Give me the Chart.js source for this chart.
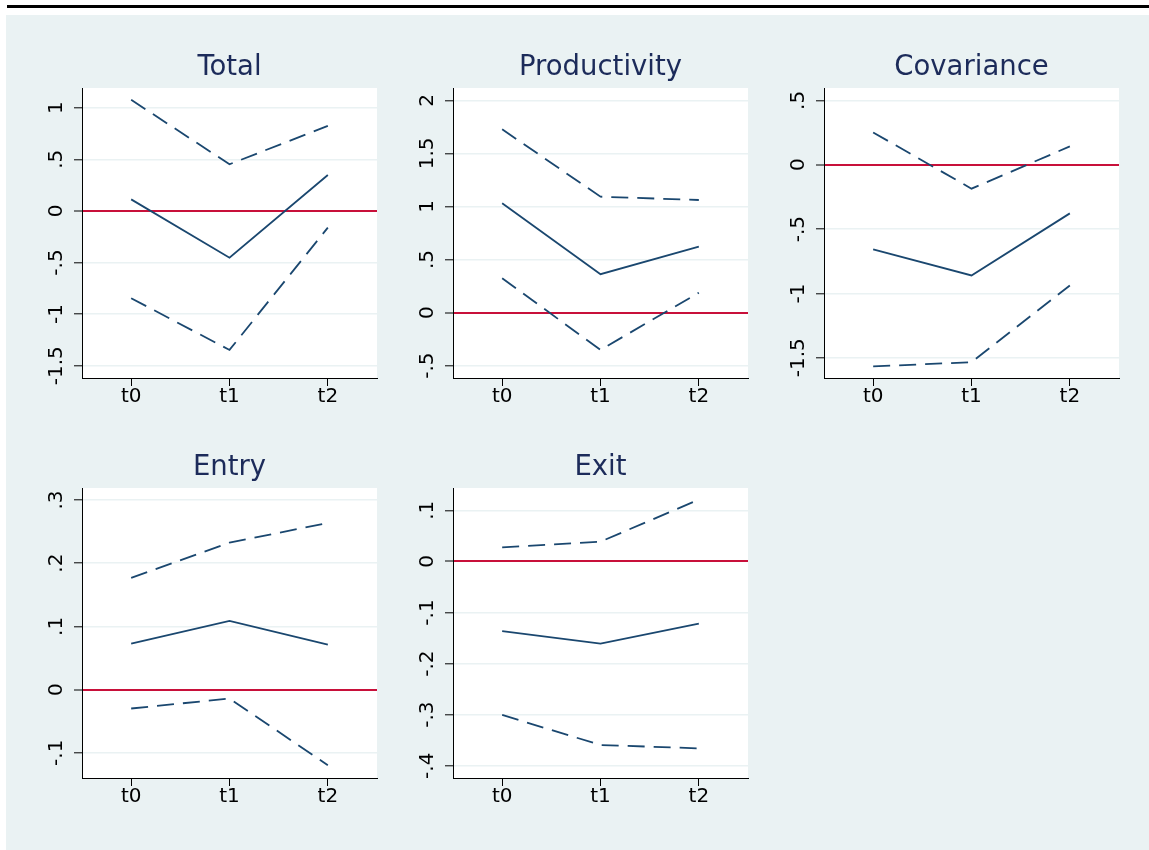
<!DOCTYPE html>
<html>
<head>
<meta charset="utf-8">
<script src="https://cdn.jsdelivr.net/npm/chart.js@4.4.1/dist/chart.umd.min.js"></script>
<style>
html, body { margin:0; padding:0; background:#ffffff; width:1149px; height:850px; overflow:hidden; }
#topline { position:absolute; left:7px; top:5px; width:1142px; height:3px; background:#000; }
#bg { position:absolute; left:6px; top:15px; width:1143px; height:835px; background:#eaf2f3; }
canvas { position:absolute; }
</style>
</head>
<body>
<div id="topline"></div>
<div id="bg"></div>
<script>
// ---- data ----
const categories = ['t0', 't1', 't2'];
const titles = ['Total', 'Productivity', 'Covariance', 'Entry', 'Exit'];

const totalMean  = [0.112, -0.453, 0.348];
const totalUpper = [1.076, 0.452, 0.824];
const totalLower = [-0.846, -1.347, -0.162];
const totalTicks = [-1.5, -1, -0.5, 0, 0.5, 1];
const totalRange = [-1.619, 1.191];

const prodMean  = [1.030, 0.362, 0.621];
const prodUpper = [1.727, 1.092, 1.061];
const prodLower = [0.324, -0.351, 0.188];
const prodTicks = [-0.5, 0, 0.5, 1, 1.5, 2];
const prodRange = [-0.616, 2.116];

const covMean  = [-0.658, -0.860, -0.378];
const covUpper = [0.251, -0.186, 0.142];
const covLower = [-1.567, -1.534, -0.938];
const covTicks = [-1.5, -1, -0.5, 0, 0.5];
const covRange = [-1.657, 0.596];

const entryMean  = [0.0728, 0.1085, 0.0712];
const entryUpper = [0.1766, 0.2326, 0.2636];
const entryLower = [-0.030, -0.0142, -0.1198];
const entryTicks = [-0.1, 0, 0.1, 0.2, 0.3];
const entryRange = [-0.140, 0.319];

const exitMean  = [-0.1365, -0.1608, -0.1216];
const exitUpper = [0.0275, 0.0386, 0.121];
const exitLower = [-0.3006, -0.3594, -0.366];
const exitTicks = [-0.4, -0.3, -0.2, -0.1, 0, 0.1];
const exitRange = [-0.424, 0.1437];

// ---- layout / style ----
const FONT = '"DejaVu Sans", sans-serif';
const NAVY = '#1a476f';
const RED = '#c8103a';
const GRID = '#eaf2f3';
const TITLE = '#1c2b5a';
const AXIS_W = 76, TITLE_H = 78, XAX_H = 40, PLOT_W = 295, PLOT_H = 290, PAD_R = 4;
const TITLE_SIZE = 27.5;

const layoutPos = [
  {left: 82, top: 88}, {left: 453, top: 88}, {left: 824, top: 88},
  {left: 82, top: 488}, {left: 453, top: 488}
];

const panels = [
  {title: titles[0], mean: totalMean, upper: totalUpper, lower: totalLower, ticks: totalTicks, range: totalRange},
  {title: titles[1], mean: prodMean, upper: prodUpper, lower: prodLower, ticks: prodTicks, range: prodRange},
  {title: titles[2], mean: covMean, upper: covUpper, lower: covLower, ticks: covTicks, range: covRange},
  {title: titles[3], mean: entryMean, upper: entryUpper, lower: entryLower, ticks: entryTicks, range: entryRange},
  {title: titles[4], mean: exitMean, upper: exitUpper, lower: exitLower, ticks: exitTicks, range: exitRange}
];

function fmt(v) {
  const r = Math.round(v * 1000) / 1000;
  return String(r).replace(/^(-?)0\./, '$1.');
}

const measure = document.createElement('canvas').getContext('2d');
measure.font = '20px ' + FONT;

const whiteBg = {
  id: 'whiteBg',
  beforeDraw(chart) {
    const {ctx, chartArea: a} = chart;
    ctx.save();
    ctx.fillStyle = '#ffffff';
    ctx.fillRect(a.left, a.top, a.right - a.left, a.bottom - a.top);
    ctx.restore();
  }
};

panels.forEach((p, i) => {
  const pos = layoutPos[i];
  const cv = document.createElement('canvas');
  cv.width = AXIS_W + PLOT_W + PAD_R;
  cv.height = TITLE_H + PLOT_H + XAX_H;
  cv.style.left = (pos.left - AXIS_W) + 'px';
  cv.style.top = (pos.top - TITLE_H) + 'px';
  document.body.appendChild(cv);
  const widest = Math.max(...p.ticks.map(t => measure.measureText(fmt(t)).width));
  const lineDs = (data, dashed) => ({
    data: data,
    borderColor: NAVY,
    borderWidth: 1.8,
    borderDash: dashed ? [17, 9] : [],
    pointRadius: 0,
    tension: 0,
    fill: false
  });
  const lh = 1.2 * TITLE_SIZE;
  const padTop = 57.5 - lh / 2;
  new Chart(cv, {
    type: 'line',
    data: {
      labels: categories,
      datasets: [lineDs(p.upper, true), lineDs(p.mean, false), lineDs(p.lower, true)]
    },
    options: {
      responsive: false,
      animation: false,
      devicePixelRatio: 1,
      layout: {padding: {left: 0, right: PAD_R, top: 0, bottom: 0}},
      plugins: {
        legend: {display: false},
        tooltip: {enabled: false},
        title: {
          display: true, text: p.title, fullSize: false, color: TITLE,
          font: {family: FONT, size: TITLE_SIZE, weight: 'normal', lineHeight: 1.2},
          padding: {top: padTop, bottom: TITLE_H - lh - padTop}
        }
      },
      scales: {
        x: {
          type: 'category', offset: true,
          grid: {display: true, drawOnChartArea: false, tickLength: 8, tickColor: '#000', tickWidth: 1, offset: false},
          border: {display: true, color: '#000', width: 1},
          ticks: {font: {family: FONT, size: 20}, color: '#000', padding: -1, maxRotation: 0, minRotation: 0, autoSkip: false},
          afterFit(s) { s.height = XAX_H; }
        },
        y: {
          type: 'linear', min: p.range[0], max: p.range[1],
          afterBuildTicks(s) { s.ticks = p.ticks.map(v => ({value: v})); },
          grid: {
            color: c => (c.tick && c.tick.value === 0) ? RED : GRID,
            lineWidth: c => (c.tick && c.tick.value === 0) ? 2 : 1.6,
            tickLength: 8, tickColor: '#000', tickWidth: 1
          },
          border: {display: true, color: '#000', width: 1},
          ticks: {
            font: {family: FONT, size: 20}, color: '#000',
            minRotation: 90, maxRotation: 90, crossAlign: 'center',
            padding: 16.9 - widest / 2,
            callback: v => fmt(v)
          },
          afterFit(s) { s.width = AXIS_W; }
        }
      }
    },
    plugins: [whiteBg]
  });
});
</script>
</body>
</html>
